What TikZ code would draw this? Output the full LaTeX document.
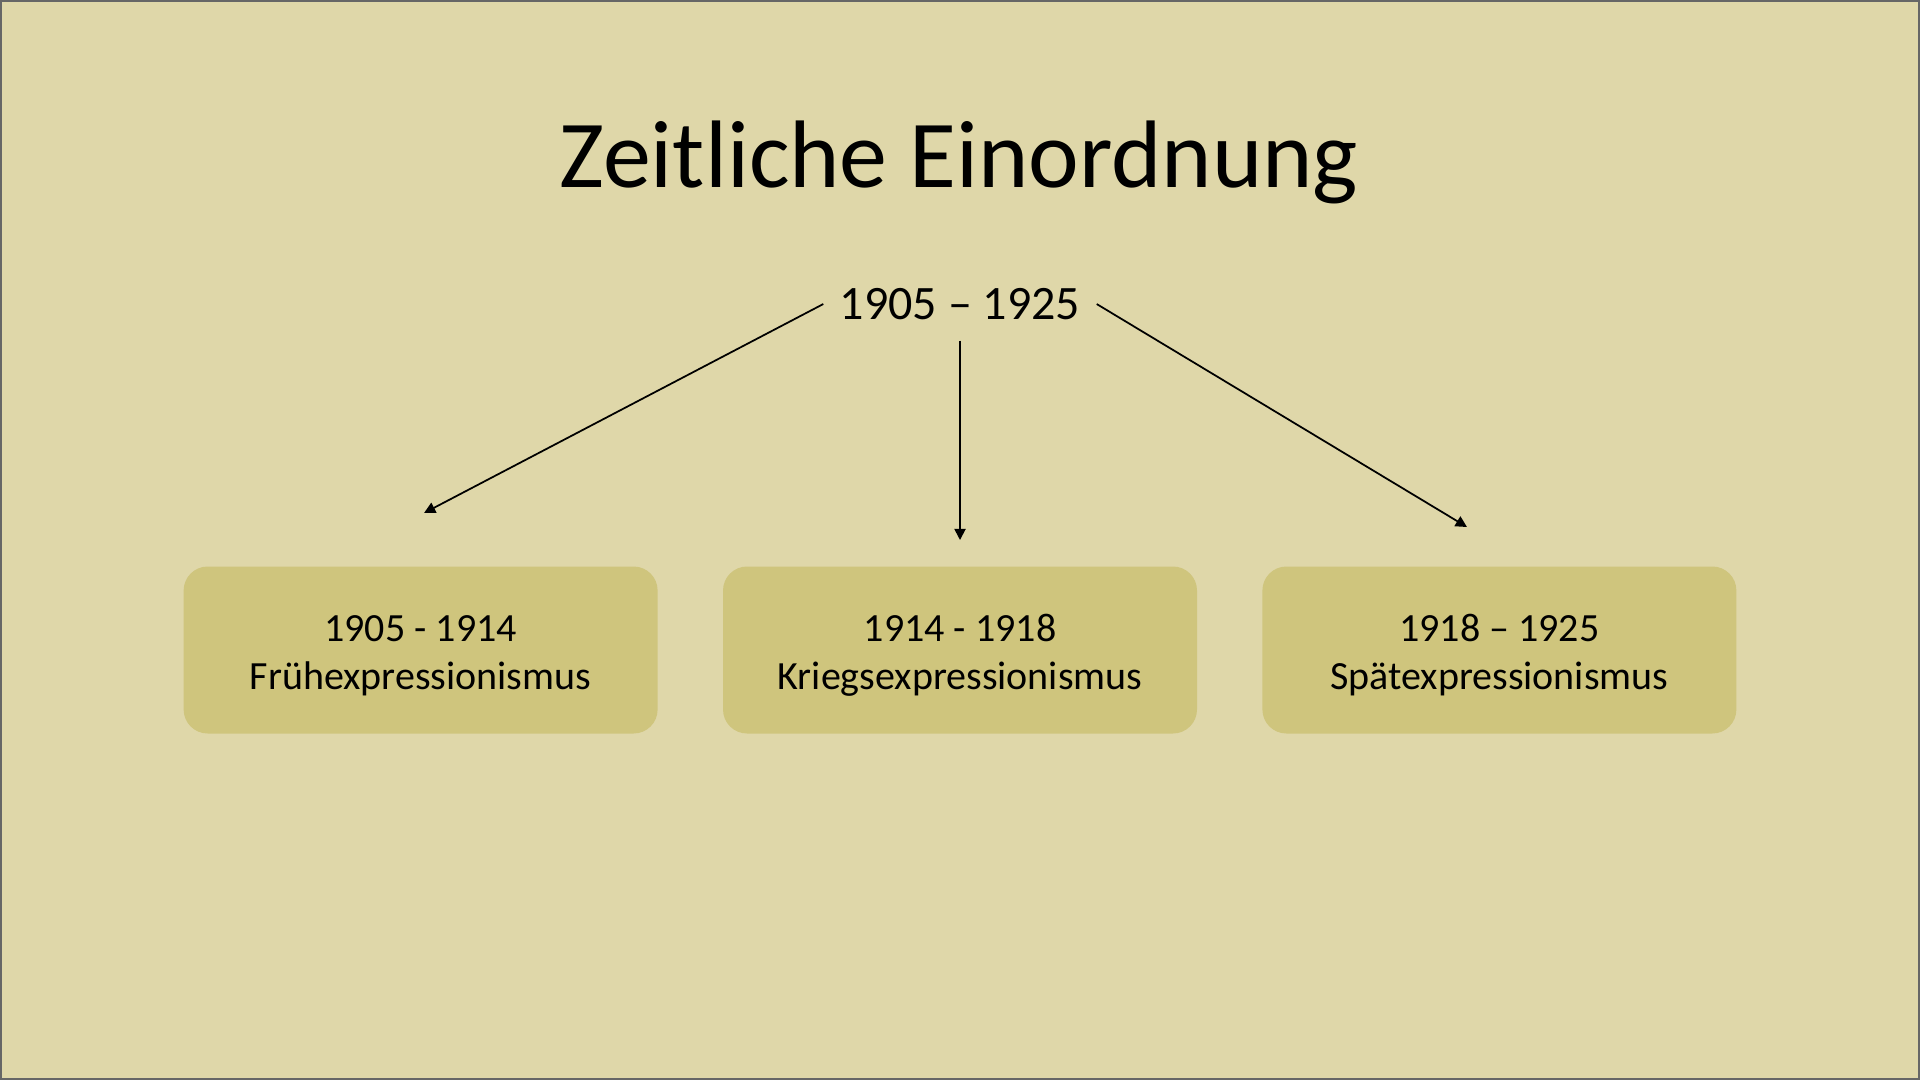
\documentclass[tikz,border=0pt]{standalone}
\usepackage{fontspec}
\setmainfont{Carlito}
\usetikzlibrary{positioning,arrows.meta}
\definecolor{slidebg}{RGB}{223,215,169}
\definecolor{epochfill}{RGB}{207,197,125}
\newcommand{\epochstrut}{\rule{0pt}{10.7pt}}
\begin{document}
\begin{tikzpicture}
	
	\tikzstyle{epoch} = [rectangle, rounded corners=0.24cm, minimum width=4.74cm, minimum height=1.67cm, text centered, align=center, fill=epochfill, font=\fontsize{11.38}{13.66}\selectfont]
	\tikzstyle{span} = [rectangle, minimum width=2.72cm, minimum height=0.72cm, text centered, font=\fontsize{13.66}{16}\selectfont]
	\tikzstyle{arrow} = [line width=0.5pt, -{Triangle[length=3.2pt,width=3.2pt]}]
	
	% slide
	\fill[slidebg] (0,0) rectangle (19.2,10.8);
	\draw[black!60, line width=0.6pt] (0.01,0.01) rectangle (19.19,10.79);
	\useasboundingbox (0,0) rectangle (19.2,10.8);
	
	\node (title) [anchor=base, font=\fontsize{27.3}{32}\selectfont] at (9.59,8.93) {Zeitliche Einordnung};
	\node (expr) [span] at (9.60,7.76) {1905 -- 1925};
	
	% epochs
	\node (krieg) [epoch] at (9.60,4.30) {\epochstrut1914 - 1918\\Kriegsexpressionismus};
	\node (frueh) [epoch, left=0.64cm of krieg] {\epochstrut1905 - 1914\\Frühexpressionismus};
	\node (spaet) [epoch, right=0.64cm of krieg] {\epochstrut1918 -- 1925\\Spätexpressionismus};
	
	% arrows
	\coordinate (fruehtip) at (4.24,5.67);
	\coordinate (kriegtip) at (9.60,5.40);
	\coordinate (spaettip) at (14.67,5.53);
	\draw [arrow] (expr.west) -- (fruehtip);
	\draw [arrow] (expr.south) -- (kriegtip);
	\draw [arrow] (expr.east) -- (spaettip);
	
\end{tikzpicture}
\end{document}
